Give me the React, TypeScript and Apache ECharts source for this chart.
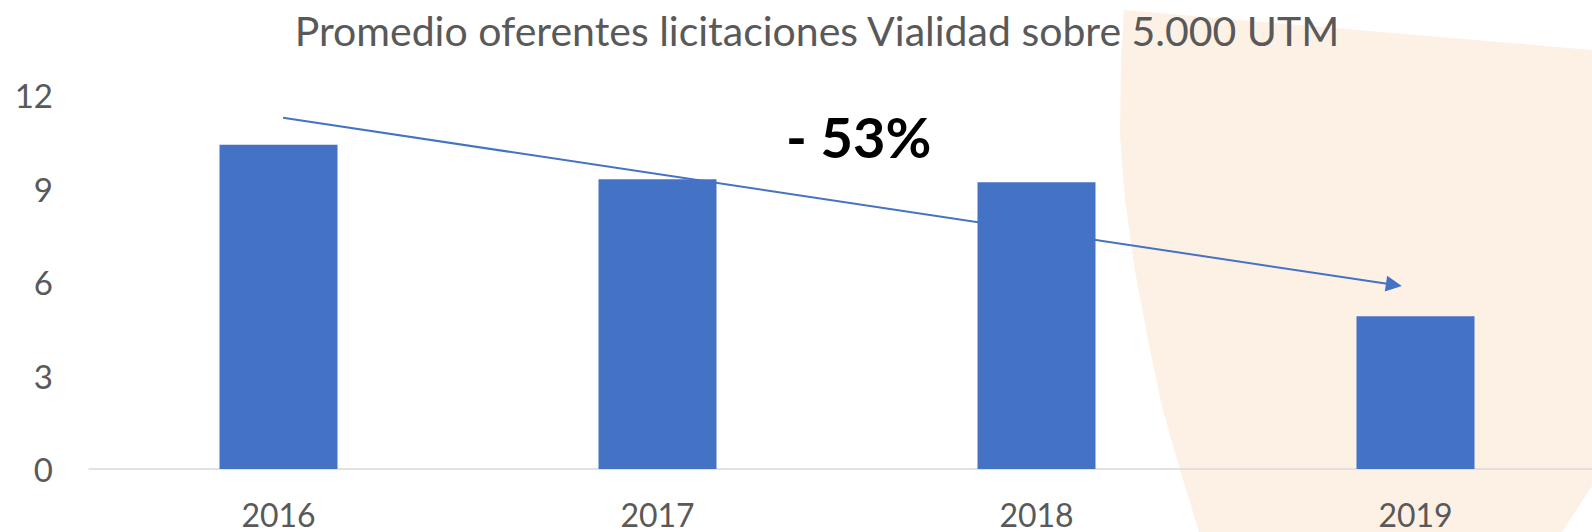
import React, { useEffect, useRef } from "react";
import * as echarts from "echarts";

const categories = ["2016", "2017", "2018", "2019"];
const values = [10.4, 9.3, 9.2, 4.9];
const yTicks = [0, 3, 6, 9, 12];
const titleText = "Promedio oferentes licitaciones Vialidad sobre 5.000 UTM";
const changeText = "- 53%";
// trend arrow endpoints, in category-index units (x) and values (y)
const trendStart = [0.012, 11.27];
const trendEnd = [2.943, 5.91];

const FONT = "Lato, 'Open Sans', sans-serif";

export default function App() {
  const ref = useRef<HTMLDivElement>(null);
  useEffect(() => {
    if (!ref.current) return;
    const chart = echarts.init(ref.current, undefined, { renderer: "svg" });
    chart.setOption({
      animation: false,
      backgroundColor: "#ffffff",
      title: {
        text: titleText,
        left: "center",
        top: 5,
        textStyle: { fontFamily: FONT, fontSize: 41, fontWeight: "normal", color: "#595959" },
      },
      graphic: [
        {
          type: "polygon",
          z: -10,
          silent: true,
          shape: {
            points: [
              [1592, 50], [1124, 10], [1121, 60], [1120, 136], [1125, 200], [1135, 271],
              [1148, 340], [1162, 407], [1180, 470], [1199, 532], [1562, 532], [1592, 486],
            ],
          },
          style: { fill: "#FDF1E6" },
        },
        {
          type: "text",
          left: 786,
          top: 108,
          style: { text: changeText, font: `bold 56px ${FONT}`, fill: "#000000" },
        },
      ],
      grid: { left: 89, top: 95, bottom: 63, width: 1516 },
      xAxis: [
        {
          type: "category",
          data: categories,
          axisLine: { lineStyle: { color: "#D9D9D9", width: 1.5 } },
          axisTick: { show: false },
          axisLabel: { fontFamily: FONT, fontSize: 32, lineHeight: 30, color: "#595959", margin: 30 },
        },
        { type: "value", min: -0.5, max: 3.5, show: false },
      ],
      yAxis: {
        type: "value",
        min: yTicks[0],
        max: yTicks[yTicks.length - 1],
        interval: 3,
        splitLine: { show: false },
        axisLine: { show: false },
        axisTick: { show: false },
        axisLabel: { fontFamily: FONT, fontSize: 33, color: "#595959", margin: 36 },
      },
      series: [
        {
          type: "bar",
          data: values,
          barWidth: 118,
          itemStyle: { color: "#4472C4" },
        },
        {
          type: "line",
          xAxisIndex: 1,
          data: [],
          silent: true,
          markLine: {
            silent: true,
            symbol: ["none", "triangle"],
            symbolSize: [16, 16],
            label: { show: false },
            lineStyle: { color: "#4472C4", width: 2, type: "solid" },
            data: [[{ coord: trendStart }, { coord: trendEnd }]],
          },
        },
      ],
    });
    return () => chart.dispose();
  }, []);
  return (
    <div
      style={{ position: "fixed", left: 0, top: 0, width: 1592, height: 532, overflow: "hidden" }}
    >
      <div ref={ref} style={{ width: 1634, height: 532 }} />
    </div>
  );
}
